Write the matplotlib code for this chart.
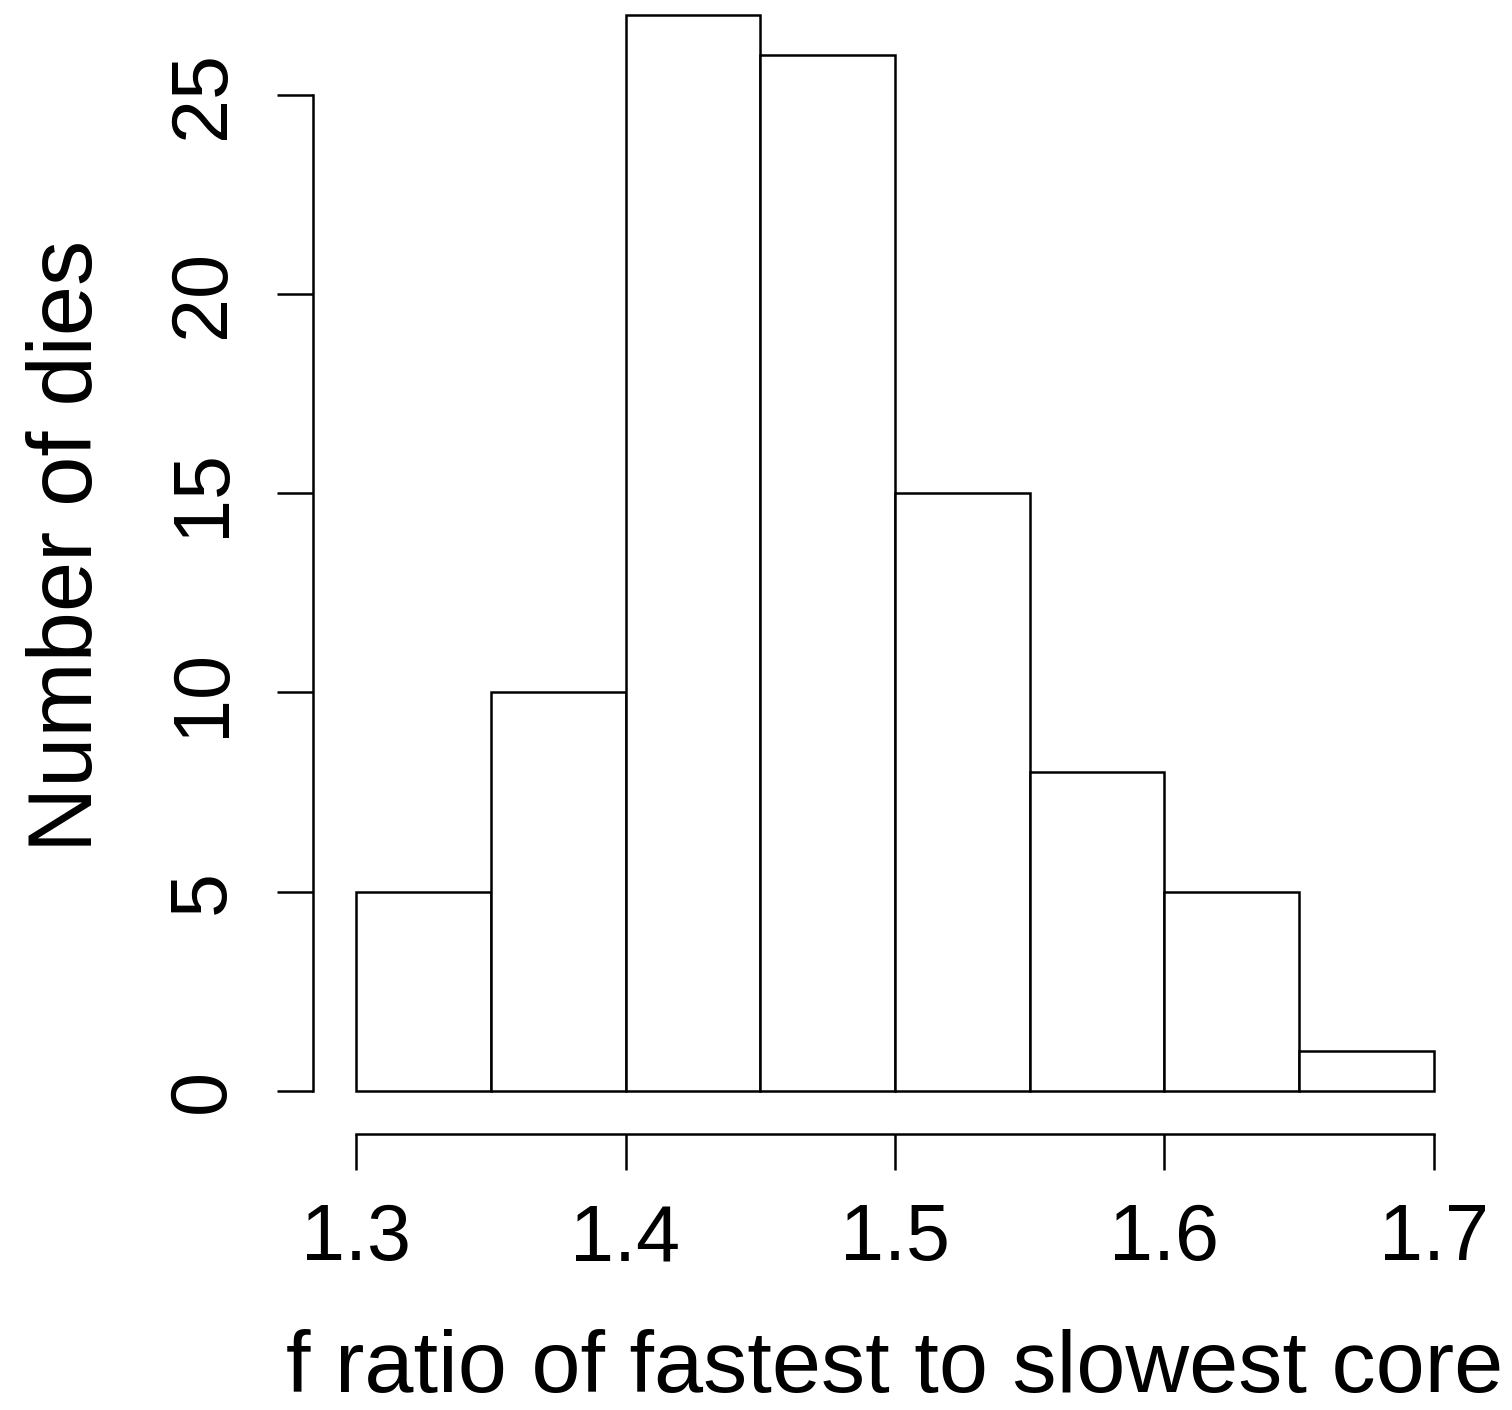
import matplotlib
matplotlib.use("Agg")
import matplotlib.pyplot as plt
import numpy as np

# Histogram of frequency ratio (fastest / slowest core) per die
bin_edges = [1.30, 1.35, 1.40, 1.45, 1.50, 1.55, 1.60, 1.65, 1.70]
counts = [5, 10, 27, 26, 15, 8, 5, 1]
x_ticks = [1.3, 1.4, 1.5, 1.6, 1.7]
x_tick_labels = ["1.3", "1.4", "1.5", "1.6", "1.7"]
y_ticks = [0, 5, 10, 15, 20, 25]
x_label = "f ratio of fastest to slowest core"
y_label = "Number of dies"

plt.rcParams["font.family"] = ["Liberation Sans", "DejaVu Sans"]

W, H = 1512, 1410
fig = plt.figure(figsize=(W / 100, H / 100), dpi=100)
left_px, right_px, bottom_px, top_px = 313, 1477, 1134, 15
ax = fig.add_axes([left_px / W, (H - bottom_px) / H,
                   (right_px - left_px) / W, (bottom_px - top_px) / H])

lw = 1.8
edges = np.array(bin_edges)
ax.bar(edges[:-1], counts, width=np.diff(edges), align="edge",
       facecolor="white", edgecolor="black", linewidth=lw, clip_on=False)

span = edges[-1] - edges[0]
ax.set_xlim(edges[0] - 0.04 * span, edges[-1] + 0.04 * span)
ax.set_ylim(-0.04 * max(counts), max(counts))

for s in ("top", "right"):
    ax.spines[s].set_visible(False)
ax.spines["left"].set_bounds(y_ticks[0], y_ticks[-1])
ax.spines["bottom"].set_bounds(x_ticks[0], x_ticks[-1])
for s in ("left", "bottom"):
    ax.spines[s].set_linewidth(lw)

ax.set_xticks(x_ticks)
ax.set_xticklabels(x_tick_labels)
ax.set_yticks(y_ticks)
ax.set_yticklabels([str(v) for v in y_ticks], rotation=90, va="center")

ax.tick_params(axis="both", direction="out", length=26, width=lw,
               labelsize=57)
ax.tick_params(axis="x", pad=23)
ax.tick_params(axis="y", pad=26)

fig.text(895 / W, 1 - 1392 / H, x_label, ha="center", va="baseline",
         fontsize=63.5)
fig.text(92 / W, 1 - 546 / H, y_label, ha="center", va="baseline",
         rotation=90, rotation_mode="anchor", fontsize=65)

fig.savefig("out.png", dpi=100, facecolor="white")
